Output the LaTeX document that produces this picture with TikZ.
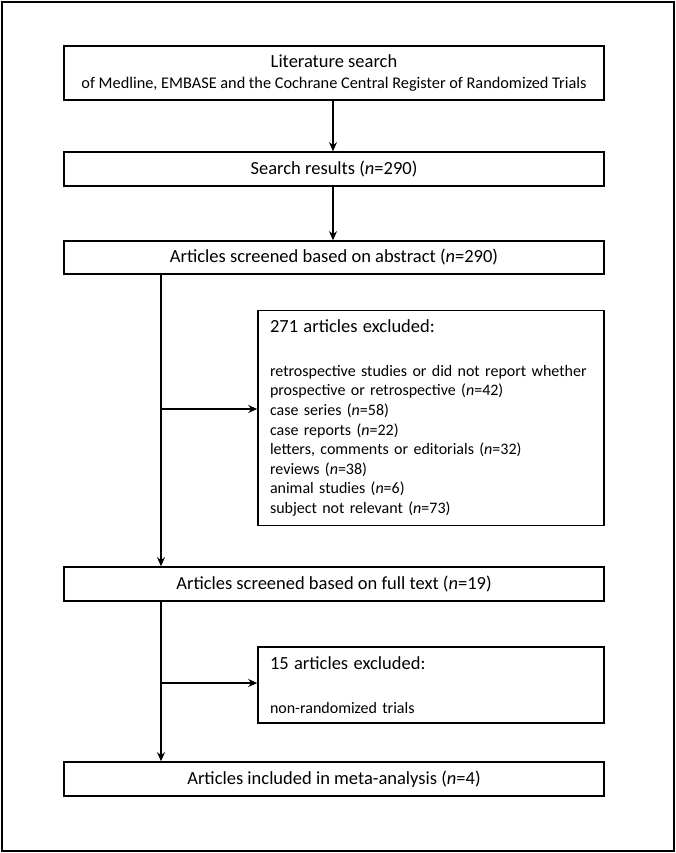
\documentclass[tikz,border=0pt]{standalone}
\usepackage{fontspec}
\setmainfont{Carlito}
\usetikzlibrary{arrows.meta}
\newcommand{\mainsz}{\fontsize{18.5}{21}\selectfont}
\newcommand{\listsz}{\fontsize{16}{19.6}\selectfont}
\newcommand{\headsz}{\fontsize{18.5}{21}\selectfont}
\begin{document}
\begin{tikzpicture}[x=1pt,y=-1pt,
  box/.style={draw,line width=1.6pt,inner sep=0pt,minimum width=540pt,align=center,font=\mainsz},
  exbox/.style={draw,line width=1.6pt,inner sep=0pt,minimum width=346pt,text width=322pt,align=left,font=\listsz},
  arr/.style={line width=1.6pt,-{Stealth[length=9pt,width=8pt]}}]
\useasboundingbox (0,0) rectangle (676,853);
\node[draw,line width=1.8pt,minimum width=672pt,minimum height=849pt,inner sep=0pt] (frame) at (338,426.5) {};
\node[box,minimum height=54pt] (b1) at (334,73) {{\headsz Literature search}\\[0pt]{\fontsize{16.3}{18}\selectfont of Medline, EMBASE and the Cochrane Central Register of Randomized Trials}};
\node[box,minimum height=34pt] (b2) at (334,169) {Search results (\textit{n}=290)};
\node[box,minimum height=33pt] (b3) at (334,257.5) {Articles screened based on abstract (\textit{n}=290)};
\node[exbox,minimum height=215pt] (b4) at (431,418) {{\headsz 271 articles excluded:}\\[24pt]
retrospective studies or did not report whether\\
prospective or retrospective (\textit{n}=42)\\
case series (\textit{n}=58)\\
case reports (\textit{n}=22)\\
letters, comments or editorials (\textit{n}=32)\\
reviews (\textit{n}=38)\\
animal studies (\textit{n}=6)\\
subject not relevant (\textit{n}=73)};
\node[box,minimum height=34pt] (b5) at (334,584) {Articles screened based on full text (\textit{n}=19)};
\node[exbox,minimum height=76pt] (b6) at (431,685) {{\headsz 15 articles excluded:}\\[24pt]
non-randomized trials};
\node[box,minimum height=34pt] (b7) at (334,779) {Articles included in meta-analysis (\textit{n}=4)};
\coordinate (sp) at (161,0);
\coordinate (mid) at (333,0);
\coordinate (j1) at (161,409);
\coordinate (j2) at (161,683);
\draw[arr] (b1.south -| mid) -- (b2.north -| mid);
\draw[arr] (b2.south -| mid) -- (b3.north -| mid);
\draw[arr] (b3.south -| sp) -- (b5.north -| sp);
\draw[arr] (b5.south -| sp) -- (b7.north -| sp);
\draw[arr] (j1) -- (b4.west |- j1);
\draw[arr] (j2) -- (b6.west |- j2);
\end{tikzpicture}
\end{document}
